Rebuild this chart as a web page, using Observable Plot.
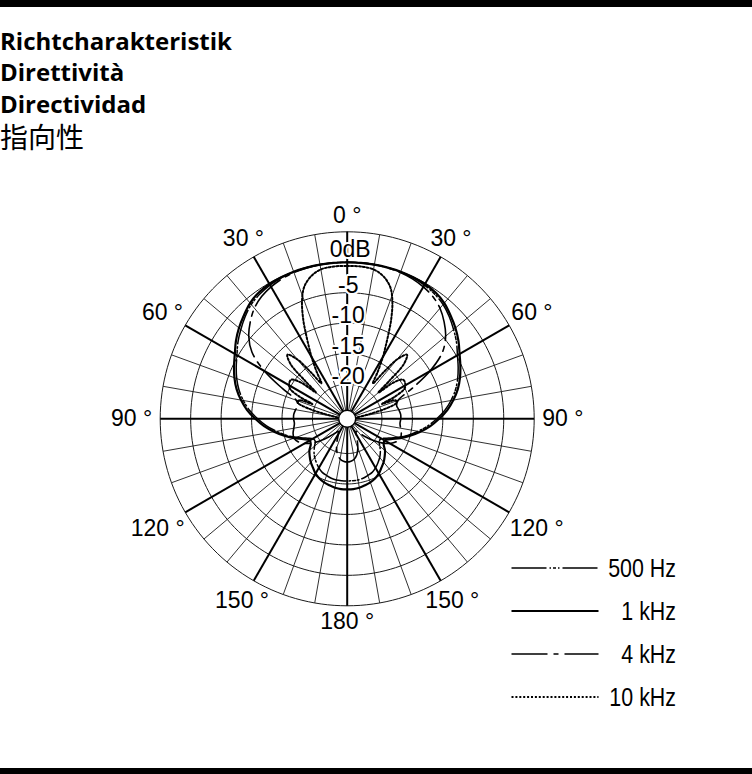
<!DOCTYPE html>
<html>
<head>
<meta charset="utf-8">
<script src="https://cdn.jsdelivr.net/npm/d3@7"></script>
<script src="https://cdn.jsdelivr.net/npm/@observablehq/plot@0.6"></script>
<style>
  html, body { margin: 0; padding: 0; background: #fff; }
  #page { position: relative; width: 752px; height: 774px; overflow: hidden; background: #fff; }
  #page svg { position: absolute; left: 0; top: 0; }
</style>
</head>
<body>
<div id="page"></div>
<script>
// ---- Polar grid definition (levels in dB, angles in degrees, 0° = on axis) ----
const DB_MIN = -25.7;                 // level at the pole
const DB_MAX = 5;                     // outermost ring
const RINGS = [5, 0, -5, -10, -15, -20];
const RING_LABEL_LEVELS = [0, -5, -10, -15, -20];
const RING_LABEL_TEXT = ["0dB", "-5", "-10", "-15", "-20"];
const SPOKE_STEP = 10;
const MAJOR_SPOKE_STEP = 30;
const ANGLE_TICKS = [0, 30, 60, 90, 120, 150, 180, 210, 240, 270, 300, 330];

// ---- Measured response, one half (0°..180°); the pattern is symmetric ----
const ANGLES = [0, 5, 10, 15, 20, 25, 30, 35, 40, 45, 50, 55, 60, 65, 70, 75, 80, 85, 90,
  95, 100, 105, 110, 115, 120, 125, 130, 135, 140, 145, 150, 155, 160, 165, 170, 175, 180];

const DB_500 = [0, 0, 0, 0, -0.05, -0.15, -0.35, -0.7, -1.2, -2.0, -2.9, -3.8, -4.8, -5.6, -6.4, -7.3,
  -8.4, -9.6, -11.0, -12.4, -13.9, -15.3, -16.8, -18.2, -19.2, -19.3, -18.7, -18.0, -17.4, -16.9,
  -16.4, -16.0, -15.8, -15.6, -15.5, -15.5, -15.5];

const DB_1K = [0, 0, 0, 0, 0, -0.05, -0.15, -0.4, -0.9, -1.7, -2.5, -3.4, -4.4, -5.2, -6.0, -6.9,
  -8.0, -9.2, -10.6, -12.0, -13.5, -15.0, -16.4, -17.8, -18.6, -18.4, -17.6, -17.0, -16.4, -15.9,
  -15.3, -14.9, -14.6, -14.4, -14.2, -14.1, -14.1];

const DB_4K = [0, 0, 0, -0.05, -0.15, -0.35, -0.7, -1.2, -2.0, -3.2, -4.6, -6.6, -10.0, -14.0, -16.8,
  -17.3, -17.1, -16.9, -16.9, -17.0, -16.8, -16.5, -16.4, -16.8, -17.6, -18.8, -20.2, -21.6, -22.6,
  -23.2, -22.8, -21.8, -20.6, -19.6, -19.0, -18.7, -18.6];

const ANGLES_10K = [0, 5, 10, 14, 18, 21, 24, 26, 28, 30, 33, 36, 38, 40, 43, 46, 48, 50, 52, 55,
  58, 62, 65, 67, 69, 72, 75, 78, 82, 90, 120, 150, 180];
const DB_10K = [-0.6, -0.6, -0.8, -1.5, -2.9, -5.0, -8.0, -10.3, -12.3, -14.0, -16.5, -18.5, -16.0,
  -13.0, -11.3, -12.8, -16.5, -19.0, -16.0, -14.5, -14.5, -15.0, -17.0, -19.5, -17.2, -17.2, -19.0,
  -22.0, -24.0, -25.0, -25.0, -25.0, -25.0];

const SERIES_NAMES = ["500 Hz", "1 kHz", "4 kHz", "10 kHz"];
const SERIES_ANGLES = [ANGLES, ANGLES, ANGLES, ANGLES_10K];
const SERIES_LEVELS = [DB_500, DB_1K, DB_4K, DB_10K];

const TITLES = ["Richtcharakteristik", "Direttività", "Directividad"];
const TITLE_CJK = "指向性";

// ---- Line styles per frequency ----
const LINE_STYLE = {
  "500 Hz": {width: 1.5, dash: "35,3,1.5,2,3,2,1.5,3"},
  "1 kHz":  {width: 2.2, dash: null},
  "4 kHz":  {width: 1.6, dash: "36,6,5,6"},
  "10 kHz": {width: 2, dash: "2,1.9"}
};

// ---- Geometry helpers ----
const CX = 346.7, CY = 418.3, R_PX = 187;
const R_UNITS = DB_MAX - DB_MIN;
const PX_PER_UNIT = R_PX / R_UNITS;
const rad = db => Math.max(0, db - DB_MIN);
const toRad = a => a * Math.PI / 180;
const px = (r, a) => r * Math.sin(toRad(a));
const py = (r, a) => r * Math.cos(toRad(a));

// grid rings
const ringPts = [];
for (const level of RINGS) {
  for (let a = 0; a <= 360; a += 2) ringPts.push({level, a, r: rad(level)});
}
// spokes
const spokes = d3.range(0, 360, SPOKE_STEP).map(a => ({a, major: a % MAJOR_SPOKE_STEP === 0}));

// symmetric closed outline for one frequency
function outline(angles, levels) {
  const right = angles.map((a, i) => ({a, r: rad(levels[i])}));
  const left = right.slice(0, -1).reverse().map(d => ({a: 360 - d.a, r: d.r}));
  return right.concat(left);
}

// angle labels, pushed outward so the text box clears the outer ring
const FS = 23;
const angleLabels = ANGLE_TICKS.map(a => {
  const v = a <= 180 ? a : 360 - a;
  const text = `${v} °`;
  const w = (String(v).length * 0.556 + 0.278 + 0.4) * FS;
  const h = 0.72 * FS;
  const s = Math.sin(toRad(a)), c = Math.cos(toRad(a));
  const rpx = 195 + Math.hypot(s * w / 2, c * h / 2);
  return {a, text, r: rpx / PX_PER_UNIT};
});

const ringLabels = RING_LABEL_LEVELS.map((level, i) => ({level, text: RING_LABEL_TEXT[i], r: rad(level)}));

const labelFont = "Liberation Sans, Arial, Helvetica, sans-serif";

const marks = [
  Plot.line(ringPts, {x: d => px(d.r, d.a), y: d => py(d.r, d.a), z: "level",
    stroke: "#1a1a1a", strokeWidth: 1}),
  Plot.link(spokes.filter(d => !d.major), {x1: d => 0, y1: d => 0,
    x2: d => px(R_UNITS, d.a), y2: d => py(R_UNITS, d.a), stroke: "#1a1a1a", strokeWidth: 0.9}),
  Plot.link(spokes.filter(d => d.major), {x1: d => 0, y1: d => 0,
    x2: d => px(R_UNITS, d.a), y2: d => py(R_UNITS, d.a), stroke: "#000", strokeWidth: 2})
];

SERIES_NAMES.forEach((name, i) => {
  const st = LINE_STYLE[name];
  marks.push(Plot.line(outline(SERIES_ANGLES[i], SERIES_LEVELS[i]), {
    x: d => px(d.r, d.a), y: d => py(d.r, d.a),
    curve: "catmull-rom", stroke: "#000", strokeWidth: st.width,
    strokeDasharray: st.dash || undefined, strokeLinejoin: "round"
  }));
});

marks.push(
  Plot.dot([{r: 0}], {x: d => 0, y: d => 0, r: 8.5, fill: "white", stroke: "#000", strokeWidth: 1.4}),
  Plot.text(ringLabels.filter(d => d.level === 0), {x: d => 0, y: d => d.r, text: "text",
    lineAnchor: "bottom", textAnchor: "middle", dx: 3, dy: -5, fontSize: FS, fontFamily: labelFont,
    fill: "#000", stroke: "white", strokeWidth: 4}),
  Plot.text(ringLabels.filter(d => d.level !== 0), {x: d => 0, y: d => d.r, text: "text",
    lineAnchor: "bottom", textAnchor: "middle", dx: 1, dy: 0, fontSize: FS, fontFamily: labelFont,
    fill: "#000", stroke: "white", strokeWidth: 4}),
  Plot.text(angleLabels, {x: d => px(d.r, d.a), y: d => py(d.r, d.a), text: "text",
    textAnchor: "middle", lineAnchor: "middle", fontSize: FS, fontFamily: labelFont, fill: "#000"})
);

const chart = Plot.plot({
  width: 752,
  height: 774,
  margin: 0,
  x: {domain: [-R_UNITS, R_UNITS], range: [CX - R_PX, CX + R_PX], axis: null},
  y: {domain: [-R_UNITS, R_UNITS], range: [CY + R_PX, CY - R_PX], axis: null},
  style: {background: "transparent", overflow: "visible"},
  marks
});
document.getElementById("page").appendChild(chart);

// ---- Page furniture: rules, headings, legend ----
const deco = d3.select("#page").append("svg")
  .attr("width", 752).attr("height", 774)
  .style("pointer-events", "none");

deco.append("rect").attr("x", 0).attr("y", 0).attr("width", 752).attr("height", 7).attr("fill", "#000");
deco.append("rect").attr("x", 0).attr("y", 768).attr("width", 752).attr("height", 6).attr("fill", "#000");

TITLES.forEach((t, i) => {
  deco.append("text").attr("x", 0).attr("y", 50 + i * 31.3)
    .attr("font-family", "'Open Sans', Lato, sans-serif").attr("font-weight", 700)
    .attr("font-size", 24).attr("fill", "#000").text(t);
});
deco.append("text").attr("x", 0).attr("y", 148)
  .attr("font-family", "'Noto Sans CJK JP', 'Noto Sans CJK SC', sans-serif").attr("font-weight", 400)
  .attr("font-size", 28).attr("fill", "#000").text(TITLE_CJK);

const legend = deco.append("g");
SERIES_NAMES.forEach((name, i) => {
  const st = LINE_STYLE[name];
  const y = 568 + i * 43;
  legend.append("line").attr("x1", 511.5).attr("x2", 598.5).attr("y1", y).attr("y2", y)
    .attr("stroke", "#000").attr("stroke-width", st.width)
    .attr("stroke-dasharray", st.dash || null);
  // condensed face: narrow the glyphs about the right edge
  legend.append("text").attr("x", 0).attr("y", 0).attr("text-anchor", "end")
    .attr("transform", `translate(676,${y + 8.5}) scale(0.84,1)`)
    .attr("font-family", "'Liberation Sans Narrow', 'Liberation Sans', Arial, sans-serif")
    .attr("font-size", 25.5).attr("fill", "#000").text(name);
});
</script>
</body>
</html>
